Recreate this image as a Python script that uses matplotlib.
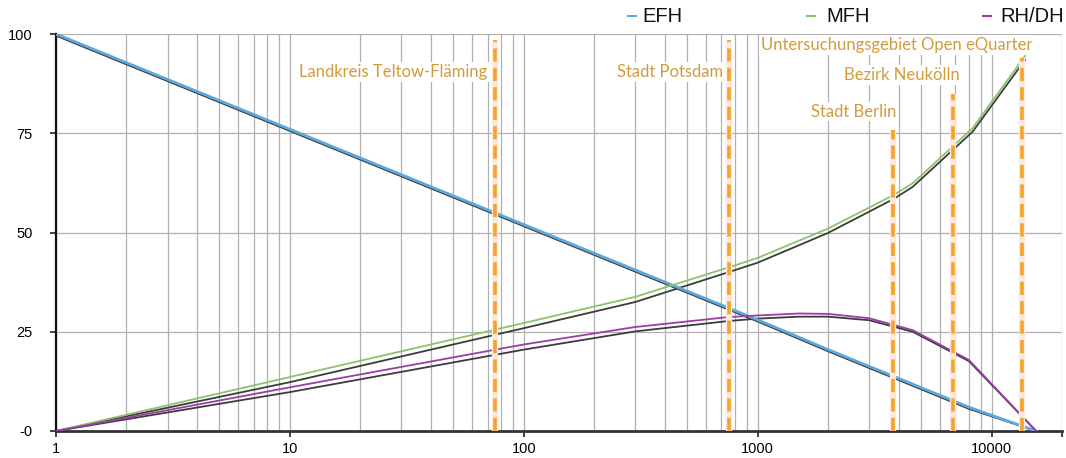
import numpy as np
import matplotlib
matplotlib.use("Agg")
import matplotlib.pyplot as plt
from matplotlib.lines import Line2D
from matplotlib.ticker import LogLocator, NullFormatter

plt.rcParams['font.family'] = ['Liberation Sans', 'DejaVu Sans']
plt.rcParams['lines.scale_dashes'] = False

# ---- data ----
x_efh = [1, 10, 100, 1000, 2000, 4600, 8000, 15500]
efh = [100, 76, 52, 28, 20.5, 11.8, 6.0, 0]
efh_dark = [99.6, 75.6, 51.6, 27.6, 20.1, 11.4, 5.6, 0]

x_mfh = [1, 10, 100, 300, 750, 1000, 2000, 3800, 4600, 8300, 13900]
mfh = [0, 13.6, 27.2, 33.8, 41.2, 43.6, 51.0, 59.4, 62.4, 76.3, 94.5]
mfh_dark = [0, 12.3, 25.9, 32.5, 40.0, 42.4, 49.9, 58.4, 61.5, 75.4, 93.5]

x_rh = [1, 10, 100, 300, 750, 1000, 1500, 2000, 3000, 4600, 8000, 15500]
rh = [0, 11.0, 21.8, 26.2, 28.7, 29.1, 29.6, 29.5, 28.4, 25.4, 17.9, 0]
rh_dark = [0, 9.8, 20.5, 25.1, 27.7, 28.3, 28.8, 28.8, 27.9, 25.0, 17.6, 0]

series_names = ['EFH', 'MFH', 'RH/DH']

ref_names = ['Landkreis Teltow-Fläming', 'Stadt Potsdam', 'Stadt Berlin',
             'Bezirk Neukölln', 'Untersuchungsgebiet Open eQuarter']
ref_x = [75, 752, 3776, 6810, 13440]
ref_top = [98.5, 98.5, 75.8, 85.0, 94.0]
ref_label_y = [90.4, 90.4, 80.4, 89.7, 97.2]

x_ticks = [1, 10, 100, 1000, 10000, 20000]
x_ticklabels = ['1', '10', '100', '1000', '10000', '']
y_ticks = [0, 25, 50, 75, 100]
y_ticklabels = ['-0', '25', '50', '75', '100']

# ---- figure ----
W, H = 1066, 458
fig = plt.figure(figsize=(W / 100, H / 100), dpi=100)
ax = fig.add_axes([56 / W, 27 / H, 1006 / W, 397 / H])

ax.set_xscale('log')
ax.set_xlim(1, 20000)
ax.set_ylim(0, 100)

ax.set_xticks(x_ticks)
ax.set_xticklabels(x_ticklabels)
ax.xaxis.set_minor_locator(LogLocator(base=10, subs=np.arange(2, 10)))
ax.xaxis.set_minor_formatter(NullFormatter())
ax.set_yticks(y_ticks)
ax.set_yticklabels(y_ticklabels)

grid_col = '#B0B0B0'
ax.grid(True, which='major', axis='both', color=grid_col, lw=0.9, zorder=0)
ax.grid(True, which='minor', axis='x', color=grid_col, lw=0.9, zorder=0)
ax.set_axisbelow(True)

ax.tick_params(axis='x', which='major', direction='out', length=4, width=1.2,
               color='#222222', pad=4, labelsize=10.5)
ax.tick_params(axis='x', which='minor', length=0)
ax.tick_params(axis='y', which='major', direction='out', length=4, width=1.2,
               color='#222222', pad=13, labelsize=10.5)

for s in ['top', 'right']:
    ax.spines[s].set_visible(False)
ax.spines['left'].set_color('#111111')
ax.spines['left'].set_linewidth(1.6)
ax.spines['bottom'].set_color('#333333')
ax.spines['bottom'].set_linewidth(2.0)

dark = '#3c3c3c'
c_efh, c_mfh, c_rh = '#5DA9DD', '#8DC26F', '#9B3FA6'

ax.plot(x_efh, efh_dark, color=dark, lw=1.4, zorder=3, solid_capstyle='round')
l1, = ax.plot(x_efh, efh, color=c_efh, lw=2.0, zorder=3.1, label=series_names[0])
ax.plot(x_mfh, mfh_dark, color=dark, lw=1.3, zorder=3)
l2, = ax.plot(x_mfh, mfh, color=c_mfh, lw=1.3, zorder=3.1, label=series_names[1])
ax.plot(x_rh, rh_dark, color=dark, lw=1.3, zorder=3)
l3, = ax.plot(x_rh, rh, color=c_rh, lw=1.3, zorder=3.1, label=series_names[2])

# reference vertical dashed lines
orange = '#F5A32A'
for xv, top in zip(ref_x, ref_top):
    ax.plot([xv, xv], [0, top], color='#FCEAE0', lw=4.5, zorder=4, solid_capstyle='butt')
    ln, = ax.plot([xv, xv], [0, top], color=orange, lw=2.6, zorder=4.1)
    ln.set_dashes([9.5, 4.5])

# labels with white background boxes
label_col = '#D39B3C'
offsets = [-7, -6, 4, 7, 11]
for name, xv, yv, off in zip(ref_names, ref_x, ref_label_y, offsets):
    ax.annotate(name, xy=(xv, yv), xytext=(off, 0), textcoords='offset pixels',
                ha='right', va='center', fontsize=12, color=label_col,
                family=['Lato', 'DejaVu Sans'], zorder=6,
                bbox=dict(boxstyle='square,pad=0.1', fc='white', ec='none'))

# legend (manual placement along the top edge)
leg_y = 1 - 16 / H
for line, name, hx, tx in zip([l1, l2, l3], series_names, [628, 807, 983], [642, 826, 1000]):
    fig.add_artist(Line2D([hx / W, (hx + 8) / W], [leg_y, leg_y], transform=fig.transFigure,
                          color=line.get_color(), lw=1.5))
    fig.text(tx / W, leg_y, name, ha='left', va='center', fontsize=14.5, color='#111111')

fig.savefig('out.png', dpi=100)
